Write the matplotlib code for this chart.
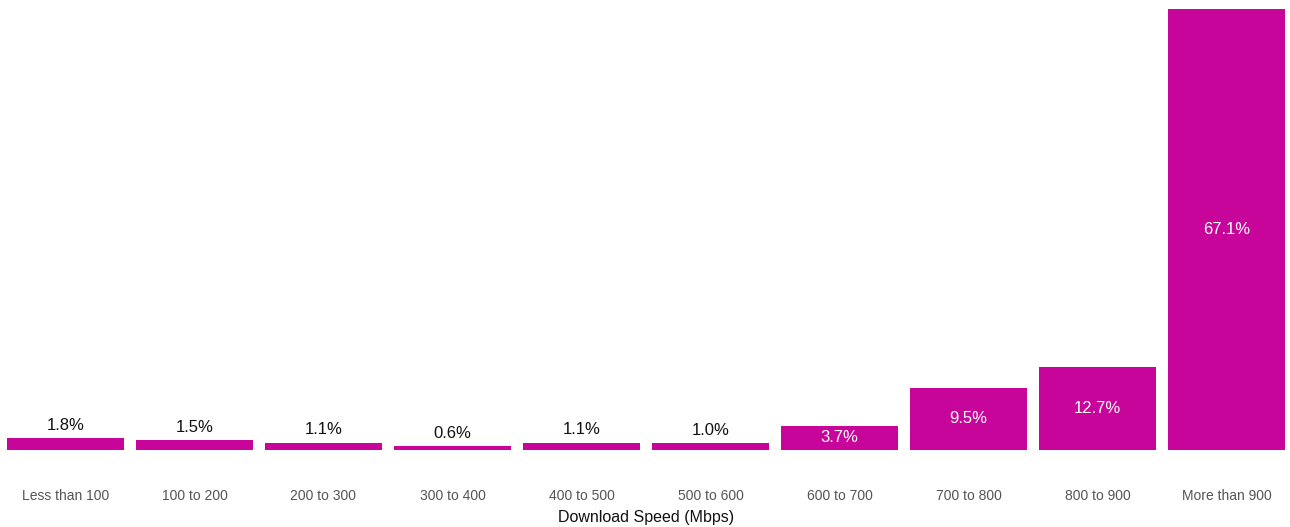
import matplotlib.pyplot as plt

plt.rcParams['font.family'] = ['Liberation Sans', 'DejaVu Sans']

categories = ['Less than 100', '100 to 200', '200 to 300', '300 to 400', '400 to 500',
              '500 to 600', '600 to 700', '700 to 800', '800 to 900', 'More than 900']
shares = [1.8, 1.5, 1.1, 0.6, 1.1, 1.0, 3.7, 9.5, 12.7, 67.1]

bar_color = '#C8059A'

fig = plt.figure(figsize=(12.9, 5.27), dpi=100)
ax = fig.add_axes([7 / 1290, 77 / 527, 1278 / 1290, 441 / 527])

x = range(len(categories))
bars = ax.bar(x, shares, width=0.906, color=bar_color)

# small bars get a dark label above, bigger ones a white label inside
for rect, v in zip(bars, shares):
    cx = rect.get_x() + rect.get_width() / 2
    if v < 3:
        ax.annotate(f'{v:.1f}%', (cx, v), xytext=(0, 4), textcoords='offset points',
                    ha='center', va='bottom', fontsize=12, color='#111111')
    else:
        ax.text(cx, v / 2, f'{v:.1f}%', ha='center', va='center', fontsize=12, color='white')

ax.set_xlim(-0.453, 9.453)
ax.set_ylim(0, 67.1)
ax.set_xticks(list(x))
ax.set_xticklabels(categories, fontsize=10, color='#555555')
ax.tick_params(axis='x', length=0, pad=28)
ax.set_yticks([])
for s in ax.spines.values():
    s.set_visible(False)
ax.set_xlabel('Download Speed (Mbps)', fontsize=11.5, color='#111111', labelpad=5)

fig.savefig('out.png', dpi=100)
